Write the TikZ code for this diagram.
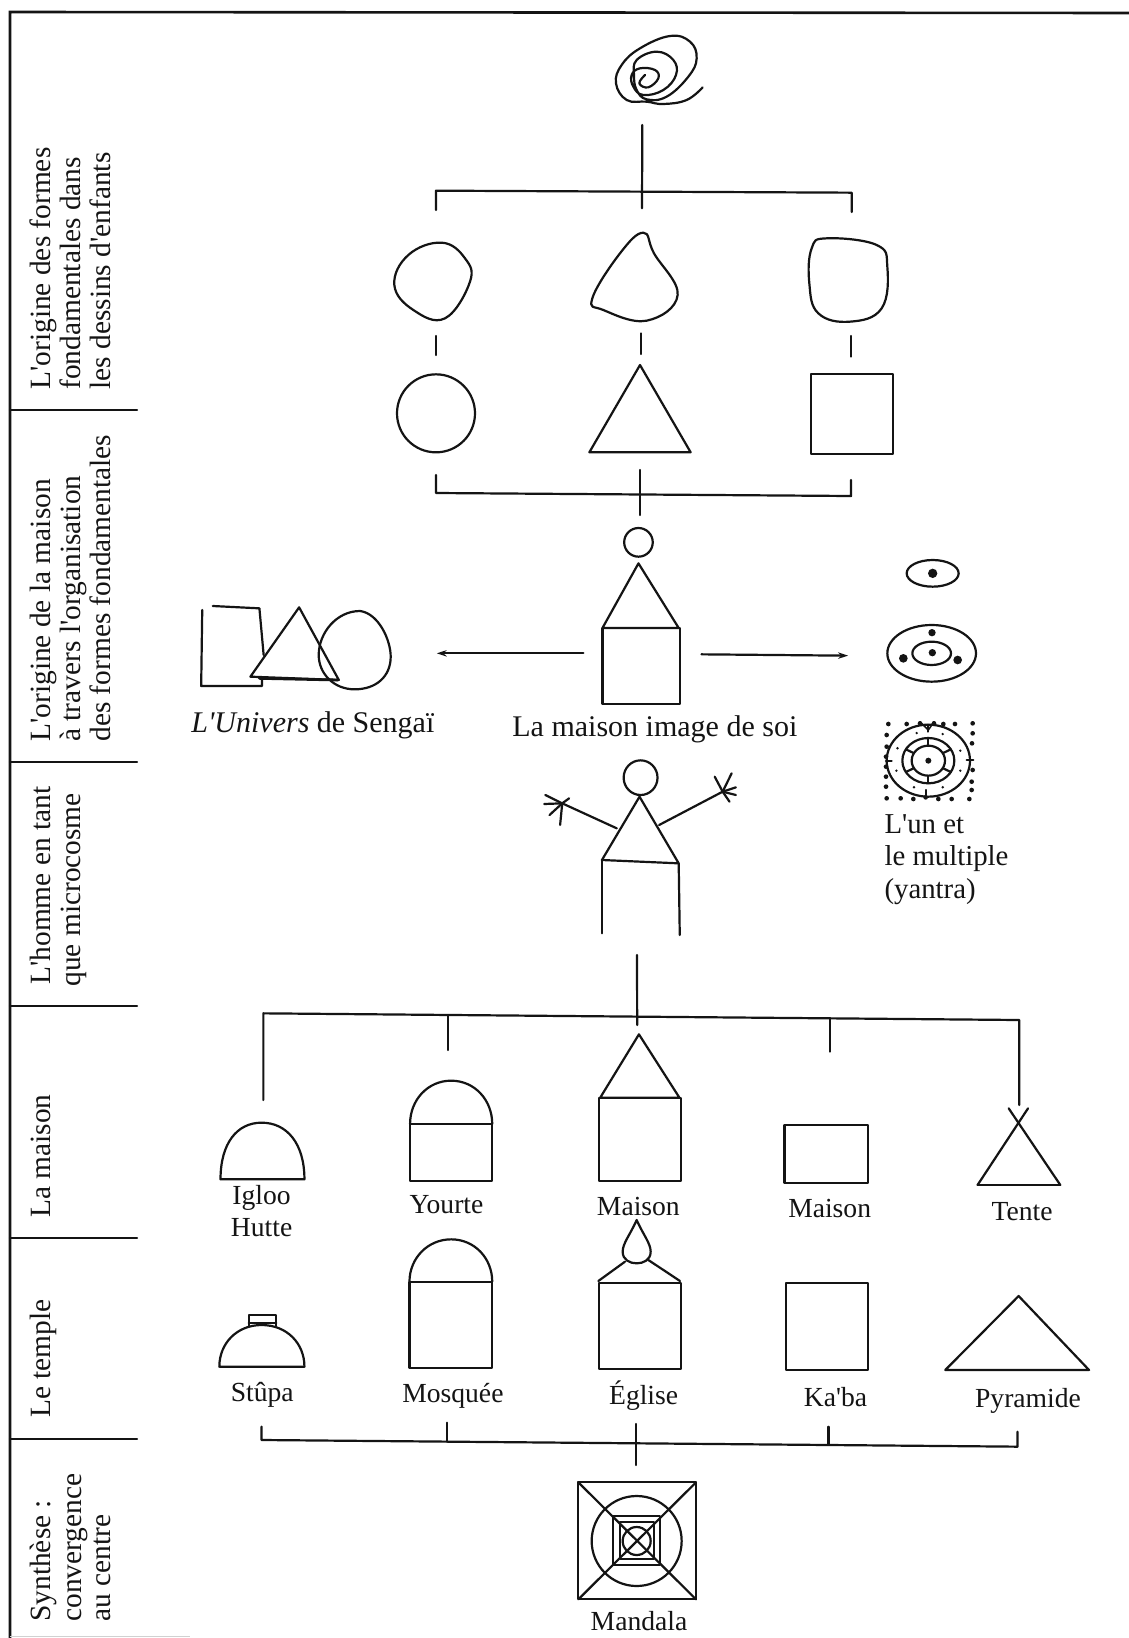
\documentclass[tikz,border=0pt]{standalone}
\usepackage{fontspec}
\setmainfont{Liberation Serif}[Ligatures=TeXOff]
\usetikzlibrary{arrows.meta}
\definecolor{ink}{HTML}{141414}
\tikzset{
  ln/.style={draw=ink,line width=1.1pt,line join=round,line cap=round},
  rim/.style={draw=ink,line width=1.3pt},
  rowtext/.style={rotate=90,anchor=base west,inner sep=0pt,text=ink,font=\fontsize{14.7}{16}\selectfont},
  lab/.style={anchor=base,inner sep=0pt,text=ink,font=\fontsize{13.8}{16}\selectfont},
  labw/.style={anchor=base,inner sep=0pt,text=ink,font=\fontsize{15}{16}\selectfont},
  labl/.style={anchor=base west,inner sep=0pt,text=ink,font=\fontsize{14.4}{16}\selectfont},
  blob/.style={ln,smooth cycle,tension=0.7},
  za/.style={shift={(380,0)},scale=0.33333},
  zb/.style={shift={(180,500)},xscale=0.52941,yscale=0.33333},
  zc/.style={shift={(860,540)},scale=0.33333},
  zd/.style={shift={(540,1220)},scale=0.33333},
  ze/.style={shift={(190,1000)},xscale=0.58685,yscale=0.33333},
  tip/.style={-{Stealth[length=5pt,width=3.2pt]}}
}
\begin{document}
\begin{tikzpicture}[x=0.5pt,y=-0.5pt]
\useasboundingbox (0,0) rectangle (1129,1638);
\fill[white] (0,0) rectangle (1129,1638);

% frame and rows
\coordinate (fTL) at (10,12); \coordinate (fTR) at (1129,13); \coordinate (fB) at (10,1638);
\draw[rim] (fTR) -- (fTL) -- (fB);
\foreach \n/\y in {a/410,b/762,c/1006,d/1238,e/1439}{
  \coordinate (s\n L) at (10,\y); \coordinate (s\n R) at (137,\y);
  \draw[ln] (s\n L) -- (s\n R);
}
\draw[black!18,line width=0.5pt] (10,1636) -- (190,1636);

\node[rowtext] (r1a) at (50,390) {L'origine des formes};
\node[rowtext] (r1b) at (80,390) {fondamentales dans};
\node[rowtext] (r1c) at (110,390) {les dessins d'enfants};
\node[rowtext] (r2a) at (50,742) {L'origine de la maison};
\node[rowtext] (r2b) at (80,742) {à travers l'organisation};
\node[rowtext] (r2c) at (110,742) {des formes fondamentales};
\node[rowtext] (r3a) at (50,985) {L'homme en tant};
\node[rowtext] (r3b) at (80,987) {que microcosme};
\node[rowtext] (r4a) at (50,1218) {La maison};
\node[rowtext] (r5a) at (50,1418) {Le temple};
\node[rowtext] (r6a) at (50,1622) {Synthèse :};
\node[rowtext] (r6b) at (81,1622) {convergence};
\node[rowtext] (r6c) at (110,1622) {au centre};

% top part
\begin{scope}[za]
  \draw[ln] plot[smooth,tension=0.7] coordinates {(968,262)(920,300)(850,312)(800,305)(740,300)(708,250)(725,195)(780,145)(870,108)(930,125)(950,175)(925,230)(860,290)(800,298)(770,270)(762,225)(770,180)(830,155)(880,180)(888,225)(850,270)(790,285)(760,260)(755,225)(780,205)(825,210)(835,235)(805,262)(778,250)(795,225)};
  \draw[blob] plot coordinates {(185,728)(255,775)(270,845)(195,955)(100,930)(43,855)(85,765)};
  \draw[blob] plot coordinates {(790,698)(822,760)(893,885)(800,962)(670,930)(637,895)(720,760)};
  \draw[blob] plot coordinates {(1340,715)(1490,735)(1522,800)(1505,925)(1410,965)(1315,940)(1288,850)(1295,745)};
  \draw[ln] (168,1240) circle (117);
  \draw[ln] (780,1095) -- (932,1357) -- (628,1357) -- cycle;
  \draw[ln] (1292,1123) rectangle (1538,1362);
  \coordinate (t0) at (787,375); \coordinate (t1) at (786,625);
  \coordinate (tL) at (168,630); \coordinate (tLc) at (168,572); \coordinate (tRc) at (1415,578); \coordinate (tR) at (1415,636);
  \coordinate (m1a) at (167,1008); \coordinate (m1b) at (167,1065);
  \coordinate (m2a) at (782,1000); \coordinate (m2b) at (782,1062);
  \coordinate (m3a) at (1413,1008); \coordinate (m3b) at (1413,1070);
\end{scope}
\draw[ln] (t0) -- (t1);
\draw[ln] (tL) -- (tLc) -- (tRc) -- (tR);
\draw[ln] (m1a) -- (m1b); \draw[ln] (m2a) -- (m2b); \draw[ln] (m3a) -- (m3b);

% bracket under the plain forms
\coordinate (bL) at (436,475); \coordinate (bLc) at (436,493); \coordinate (bRc) at (851,496); \coordinate (bR) at (851,480);
\coordinate (bM) at (640,470); \coordinate (bMe) at (640,515);
\draw[ln] (bL) -- (bLc) -- (bRc) -- (bR);
\draw[ln] (bM) -- (bMe);

% house, Sengai, man
\begin{scope}[zb]
  \draw[ln] (866,127) ellipse [x radius=27,y radius=43];
  \draw[ln] (866,190) -- (942,384) -- (798,384) -- cycle;
  \draw[ln] (798,384) rectangle (944,613);
  \coordinate (aLs) at (762,460); \coordinate (aLe) at (485,460);
  \coordinate (aRs) at (985,463); \coordinate (aRe) at (1262,467);
  % Sengai
  \draw[ln] (62,318) -- (150,325) -- (158,465);
  \draw[ln] (42,330) -- (40,558) -- (155,558) -- (155,535);
  \draw[ln] (225,322) -- (300,540) -- (133,530) -- cycle;
  \draw[ln,line width=1.4pt] (150,535) -- (298,540);
  \draw[ln] (340,333) .. controls (375,340) and (398,420) .. (398,470) .. controls (398,530) and (370,568) .. (330,568) .. controls (290,568) and (262,520) .. (262,465) .. controls (262,400) and (295,333) .. (340,333) -- cycle;
  % man
  \draw[ln] (870,833) ellipse [x radius=32,y radius=52];
  \draw[ln] (868,890) -- (942,1090) -- (797,1080) -- cycle;
  \draw[ln] (797,1080) -- (797,1300);
  \draw[ln] (942,1090) -- (944,1305);
  \draw[ln] (825,985) -- (722,910);
  \draw[ln] (905,975) -- (1025,875);
  \foreach \px/\py in {690/885,688/912,698/945,718/975,735/895}{\draw[ln] (722,910) -- (\px,\py);}
  \foreach \px/\py in {1042/820,1010/830,1050/862,1050/885,1038/905}{\draw[ln] (1025,875) -- (\px,\py);}
  \node[labw] (uni) at (251,697) {\textit{L'Univers} de Sengaï};
  \node[labw] (soi) at (897,708) {La maison image de soi};
  \node[labl] (y1) at (1330,1000) {L'un et};
  \node[labl] (y2) at (1330,1095) {le multiple};
  \node[labl] (y3) at (1330,1195) {(yantra)};
\end{scope}
\draw[ln,tip] (aLs) -- (aLe);
\draw[ln,tip] (aRs) -- (aRe);

% yantras
\begin{scope}[zc]
  \draw[ln] (218,100) ellipse [x radius=78,y radius=40];
  \fill[ink] (218,100) circle (14);
  \draw[ln] (215,340) ellipse [x radius=133,y radius=85];
  \draw[ln] (215,340) ellipse [x radius=58,y radius=35];
  \foreach \px/\py in {217/338,216/278}{\fill[ink] (\px,\py) circle (11);}
  \fill[ink] (130,355) circle (13); \fill[ink] (293,360) circle (13);
  \draw[ln] (205,662) ellipse [x radius=125,y radius=108];
  \draw[ln] (205,662) ellipse [x radius=78,y radius=68];
  \draw[ln] (205,662) ellipse [x radius=50,y radius=45];
  \fill[ink] (205,662) circle (9);
  \foreach \a in {30,90,150,210,270,330}{\draw[ln] ({205+50*cos(\a)},{662+45*sin(\a)}) -- ({205+78*cos(\a)},{662+68*sin(\a)});}
  \foreach \a in {20,65,115,160,205,250,295,340}{\fill[ink] ({205+102*cos(\a)},{662+88*sin(\a)}) circle (4);}
  \draw[ln] (205,554) -- (205,575); \draw[ln] (197,750) -- (197,775);
  \draw[ln] (78,662) -- (95,662); \draw[ln] (320,660) -- (340,660);
  \draw[ln,line width=0.8pt] (180,545) -- (205,570) -- (222,545);
  \foreach \px/\py in {85/552,140/552,180/550,222/550,250/552,285/552,338/550,
                       80/775,122/775,160/777,197/772,235/777,275/777,328/777,
                       80/585,80/620,78/650,78/680,78/710,78/740,
                       338/580,336/610,338/690,335/725,335/750}{\fill[ink] (\px,\py) circle (7);}
\end{scope}

% connector below man, upper tree
\coordinate (hub) at (637,955);
\begin{scope}[ze]
  \coordinate (u1) at (125,300); \coordinate (u1c) at (125,40);
  \coordinate (u5c) at (1413,60); \coordinate (u5) at (1413,315);
  \coordinate (u2a) at (440,48); \coordinate (u2) at (440,150);
  \coordinate (u3) at (762,75);
  \coordinate (u4a) at (1090,55); \coordinate (u4) at (1090,155);
  % houses
  \draw[ln] (52,538) .. controls (52,430) and (80,368) .. (122,368) .. controls (165,368) and (195,430) .. (195,538) -- cycle;
  \draw[ln] (375,372) .. controls (375,300) and (405,242) .. (445,242) .. controls (485,242) and (515,300) .. (515,372);
  \draw[ln] (375,372) rectangle (515,543);
  \draw[ln] (765,103) -- (834,293) -- (699,293) -- cycle;
  \draw[ln] (697,293) rectangle (836,543);
  \draw[ln] (1013,375) rectangle (1155,550);
  \draw[ln] (1342,555) -- (1483,555);
  \draw[ln] (1342,555) -- (1428,325);
  \draw[ln] (1483,555) -- (1395,325);
  % temples
  \draw[ln] (50,1100) .. controls (50,1030) and (80,975) .. (122,975) .. controls (165,975) and (195,1030) .. (195,1100) -- cycle;
  \draw[ln] (100,978) -- (100,945) -- (147,945) -- (147,978);
  \draw[ln] (100,968) -- (147,968);
  \draw[ln] (374,845) .. controls (374,775) and (405,718) .. (445,718) .. controls (485,718) and (515,775) .. (515,845);
  \draw[ln] (374,845) rectangle (515,1105);
  \draw[ln] (697,848) rectangle (836,1108);
  \draw[ln] (1015,848) rectangle (1155,1110);
  \draw[ln] (1412,888) -- (1532,1110) -- (1287,1110) -- cycle;
  % lower tree
  \coordinate (v1) at (122,1280); \coordinate (v1c) at (122,1320);
  \coordinate (v5c) at (1410,1340); \coordinate (v5) at (1410,1295);
  \coordinate (v2) at (438,1268); \coordinate (v2c) at (438,1325);
  \coordinate (v3) at (760,1272); \coordinate (v3e) at (760,1395);
  \coordinate (v4) at (1088,1280); \coordinate (v4c) at (1088,1332);
  % labels
  \node[lab] (l1) at (122,612) {Igloo};
  \node[lab] (l1b) at (122,708) {Hutte};
  \node[lab] (l2) at (437,640) {Yourte};
  \node[lab] (l3) at (764,645) {Maison};
  \node[lab] (l4) at (1090,652) {Maison};
  \node[lab] (l5) at (1418,660) {Tente};
  \node[lab] (l6) at (123,1205) {Stûpa};
  \node[lab] (l7) at (448,1208) {Mosquée};
  \node[lab] (l8) at (773,1213) {Église};
  \node[lab] (l9) at (1100,1218) {Ka'ba};
  \node[lab] (l10) at (1428,1222) {Pyramide};
\end{scope}
\draw[ln] (hub) -- (u3);
\draw[ln] (u1) -- (u1c) -- (u5c) -- (u5);
\draw[ln] (u2a) -- (u2);
\draw[ln] (u4a) -- (u4);
\draw[ln] (v1) -- (v1c) -- (v5c) -- (v5);
\draw[ln] (v2) -- (v2c);
\draw[ln] (v3) -- (v3e);
\draw[ln] (v4) -- (v4c);

% Eglise top and mandala
\begin{scope}[zd]
  \draw[ln] (290,0) .. controls (270,45) and (248,70) .. (248,95) .. controls (248,120) and (270,130) .. (290,130) .. controls (310,130) and (332,120) .. (332,95) .. controls (332,70) and (310,45) .. (290,0) -- cycle;
  \draw[ln] (175,183) -- (255,125);
  \draw[ln] (420,183) -- (325,120);
  % mandala
  \draw[ln] (115,787) rectangle (468,1138);
  \draw[ln] (290,963) circle (135);
  \draw[ln] (218,887) rectangle (360,1035);
  \draw[ln] (240,907) -- (342,907) -- (342,1018) -- (240,1018) -- cycle;
  \draw[ln] (290,963) circle (42);
  \draw[ln] (115,787) -- (468,1138);
  \draw[ln] (468,787) -- (115,1138);
  \node[lab] (man) at (297,1232) {Mandala};
\end{scope}
\end{tikzpicture}
\end{document}
